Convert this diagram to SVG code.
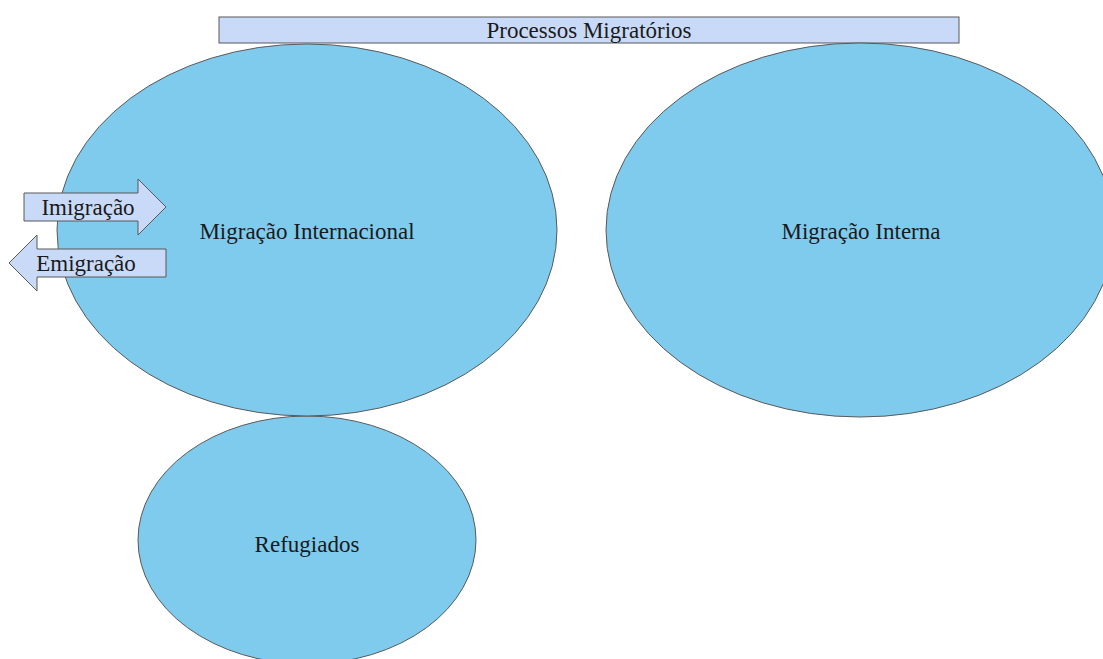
<svg xmlns="http://www.w3.org/2000/svg" width="1103" height="659" viewBox="0 0 1103 659">
<style>
.ell{fill:#7fcbee;stroke:#595959;stroke-width:1}
.box{fill:#c9daf8;stroke:#595959;stroke-width:1}
text{font-family:"Liberation Serif","Times New Roman",serif;font-size:23px;fill:#1a1a1a;text-anchor:middle}
</style>
<rect width="1103" height="659" fill="#ffffff"/>
<g id="title">
<rect class="box" x="219" y="17" width="740" height="26"/>
<text x="589" y="38">Processos Migratórios</text>
</g>
<g id="refugiados">
<ellipse class="ell" cx="307" cy="540" rx="169" ry="124"/>
<text x="307" y="552">Refugiados</text>
</g>
<g id="internacional">
<ellipse class="ell" cx="307" cy="230" rx="250" ry="186"/>
<text x="307" y="239">Migração Internacional</text>
</g>
<g id="interna">
<ellipse class="ell" cx="860" cy="230" rx="254" ry="187"/>
<text x="861" y="239">Migração Interna</text>
</g>
<g id="connectors">
<g id="imigracao">
<path class="box" d="M24,193 H138 V179 L166,207 L138,235 V221 H24 Z"/>
<text x="88" y="215">Imigração</text>
</g>
<g id="emigracao">
<path class="box" d="M166,249 H37 V235 L9,263 L37,291 V277 H166 Z"/>
<text x="86" y="271">Emigração</text>
</g>
</g>
</svg>
